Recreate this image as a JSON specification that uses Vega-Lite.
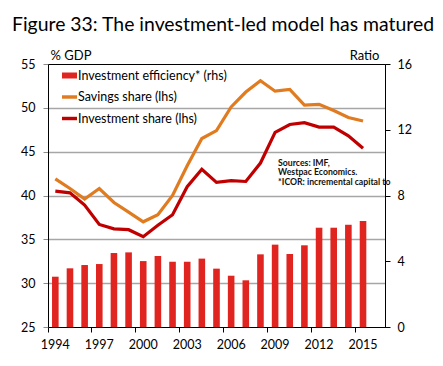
{
  "$schema": "https://vega.github.io/schema/vega-lite/v6.json",
  "width": 337,
  "height": 263,
  "autosize": {"type": "none"},
  "padding": {"left": 48, "top": 64, "right": 58, "bottom": 39},
  "background": "white",
  "title": {"text": "Figure 33: The investment-led model has matured", "anchor": "start", "frame": "group", "dx": -36, "fontSize": 19.4, "font": "Lato", "fontWeight": "normal", "color": "#000", "offset": 14},
  "config": {
    "view": {"stroke": "black", "strokeWidth": 1},
    "axis": {"labelFont": "Lato", "labelFontSize": 12.5, "labelColor": "#000", "titleFont": "Lato", "titleFontWeight": "normal", "titleFontSize": 13, "titleColor": "#000", "domainColor": "#000", "tickColor": "#000", "tickSize": 5},
    "legend": {"title": null}
  },
  "datasets": {
    "bars": [
      {"year": 1994, "ratio": 3.06}, {"year": 1995, "ratio": 3.57}, {"year": 1996, "ratio": 3.77}, {"year": 1997, "ratio": 3.83},
      {"year": 1998, "ratio": 4.50}, {"year": 1999, "ratio": 4.54}, {"year": 2000, "ratio": 4.01}, {"year": 2001, "ratio": 4.32},
      {"year": 2002, "ratio": 3.97}, {"year": 2003, "ratio": 3.97}, {"year": 2004, "ratio": 4.16}, {"year": 2005, "ratio": 3.55},
      {"year": 2006, "ratio": 3.12}, {"year": 2007, "ratio": 2.84}, {"year": 2008, "ratio": 4.42}, {"year": 2009, "ratio": 5.01},
      {"year": 2010, "ratio": 4.44}, {"year": 2011, "ratio": 4.97}, {"year": 2012, "ratio": 6.04}, {"year": 2013, "ratio": 6.04},
      {"year": 2014, "ratio": 6.22}, {"year": 2015, "ratio": 6.45}
    ],
    "shares": [
      {"year": 1994, "series": "Savings share (lhs)", "share": 41.9}, {"year": 1995, "series": "Savings share (lhs)", "share": 40.8},
      {"year": 1996, "series": "Savings share (lhs)", "share": 39.6}, {"year": 1997, "series": "Savings share (lhs)", "share": 40.8},
      {"year": 1998, "series": "Savings share (lhs)", "share": 39.2}, {"year": 1999, "series": "Savings share (lhs)", "share": 38.1},
      {"year": 2000, "series": "Savings share (lhs)", "share": 37.0}, {"year": 2001, "series": "Savings share (lhs)", "share": 37.8},
      {"year": 2002, "series": "Savings share (lhs)", "share": 40.0}, {"year": 2003, "series": "Savings share (lhs)", "share": 43.4},
      {"year": 2004, "series": "Savings share (lhs)", "share": 46.5}, {"year": 2005, "series": "Savings share (lhs)", "share": 47.4},
      {"year": 2006, "series": "Savings share (lhs)", "share": 50.1}, {"year": 2007, "series": "Savings share (lhs)", "share": 51.8},
      {"year": 2008, "series": "Savings share (lhs)", "share": 53.1}, {"year": 2009, "series": "Savings share (lhs)", "share": 51.9},
      {"year": 2010, "series": "Savings share (lhs)", "share": 52.1}, {"year": 2011, "series": "Savings share (lhs)", "share": 50.3},
      {"year": 2012, "series": "Savings share (lhs)", "share": 50.4}, {"year": 2013, "series": "Savings share (lhs)", "share": 49.7},
      {"year": 2014, "series": "Savings share (lhs)", "share": 48.9}, {"year": 2015, "series": "Savings share (lhs)", "share": 48.5},
      {"year": 1994, "series": "Investment share (lhs)", "share": 40.5}, {"year": 1995, "series": "Investment share (lhs)", "share": 40.3},
      {"year": 1996, "series": "Investment share (lhs)", "share": 38.9}, {"year": 1997, "series": "Investment share (lhs)", "share": 36.7},
      {"year": 1998, "series": "Investment share (lhs)", "share": 36.2}, {"year": 1999, "series": "Investment share (lhs)", "share": 36.1},
      {"year": 2000, "series": "Investment share (lhs)", "share": 35.3}, {"year": 2001, "series": "Investment share (lhs)", "share": 36.6},
      {"year": 2002, "series": "Investment share (lhs)", "share": 37.8}, {"year": 2003, "series": "Investment share (lhs)", "share": 41.0},
      {"year": 2004, "series": "Investment share (lhs)", "share": 43.0}, {"year": 2005, "series": "Investment share (lhs)", "share": 41.5},
      {"year": 2006, "series": "Investment share (lhs)", "share": 41.7}, {"year": 2007, "series": "Investment share (lhs)", "share": 41.6},
      {"year": 2008, "series": "Investment share (lhs)", "share": 43.7}, {"year": 2009, "series": "Investment share (lhs)", "share": 47.2},
      {"year": 2010, "series": "Investment share (lhs)", "share": 48.1}, {"year": 2011, "series": "Investment share (lhs)", "share": 48.3},
      {"year": 2012, "series": "Investment share (lhs)", "share": 47.8}, {"year": 2013, "series": "Investment share (lhs)", "share": 47.8},
      {"year": 2014, "series": "Investment share (lhs)", "share": 46.8}, {"year": 2015, "series": "Investment share (lhs)", "share": 45.4}
    ],
    "notes": [
      {"year": 2009, "share": 43.4, "text": ["Sources: IMF,", "Westpac Economics.", "*ICOR: incremental capital to"]}
    ]
  },
  "layer": [
    {
      "data": {"name": "bars"},
      "mark": {"type": "bar", "width": {"band": 0.45}},
      "encoding": {
        "x": {
          "field": "year", "type": "ordinal",
          "scale": {"domain": [1994,1995,1996,1997,1998,1999,2000,2001,2002,2003,2004,2005,2006,2007,2008,2009,2010,2011,2012,2013,2014,2015,2016], "paddingInner": 0, "paddingOuter": 0},
          "axis": {"values": [1994,1997,2000,2003,2006,2009,2012,2015], "bandPosition": 0, "labelAngle": 0, "title": null, "labelPadding": 6, "grid": false}
        },
        "y": {
          "field": "ratio", "type": "quantitative",
          "scale": {"domain": [0, 16], "nice": false},
          "axis": {"orient": "right", "values": [0,4,8,12,16], "grid": false, "title": "Ratio", "titleAngle": 0, "titleX": -6, "titleY": -5, "titleAlign": "right", "titleBaseline": "alphabetic", "labelPadding": 7}
        },
        "color": {
          "datum": "Investment efficiency* (rhs)", "type": "nominal",
          "scale": {"domain": ["Investment efficiency* (rhs)", "Savings share (lhs)", "Investment share (lhs)"], "range": ["#e0241f", "#e07b20", "#c00000"]},
          "legend": {
            "orient": "none", "legendX": 14, "legendY": 4, "title": null,
            "labelFont": "Lato", "labelFontSize": 12.5, "labelColor": "#000", "labelOffset": 1, "rowPadding": 7.5,
            "symbolSize": 225, "symbolType": "M-1,-0.23H1V0.23H-1Z",
            "encode": {"symbols": {"update": {
              "shape": {"signal": "datum.value === 'Investment efficiency* (rhs)' ? 'M-1,-0.4H1V0.4H-1Z' : 'M-1,-0.23H1V0.23H-1Z'"},
              "fill": {"scale": "color", "field": "value"},
              "stroke": {"value": "transparent"},
              "strokeWidth": {"value": 0},
              "fillOpacity": {"value": 1},
              "opacity": {"value": 1}
            }}}
          }
        }
      }
    },
    {
      "layer": [
        {
          "data": {"name": "shares"},
          "mark": {"type": "line", "strokeWidth": 3.2},
          "encoding": {
            "x": {"field": "year", "type": "ordinal"},
            "y": {
              "field": "share", "type": "quantitative",
              "scale": {"domain": [25, 55], "nice": false, "zero": false},
              "axis": {"values": [25,30,35,40,45,50,55], "title": "% GDP", "titleAngle": 0, "titleX": 2, "titleY": -5, "titleAlign": "left", "titleBaseline": "alphabetic",
                "grid": true, "gridColor": "#a6a6a6", "gridWidth": 1.5,
                "gridOpacity": {"condition": {"test": "datum.value == 25 || datum.value == 55", "value": 0}, "value": 1},
                "labelPadding": 8, "tickColor": "#8c8c8c"}
            },
            "color": {"field": "series", "type": "nominal", "legend": {"title": null}}
          }
        },
        {
          "data": {"name": "notes"},
          "mark": {"type": "text", "align": "left", "baseline": "alphabetic", "dx": 3, "fontSize": 8.7, "font": "Lato", "fontWeight": "bold", "lineHeight": 9.8, "color": "#111"},
          "encoding": {
            "x": {"field": "year", "type": "ordinal"},
            "y": {"field": "share", "type": "quantitative", "scale": {"domain": [25, 55], "nice": false, "zero": false}},
            "text": {"field": "text"}
          }
        }
      ]
    }
  ],
  "resolve": {"scale": {"y": "independent"}}
}
